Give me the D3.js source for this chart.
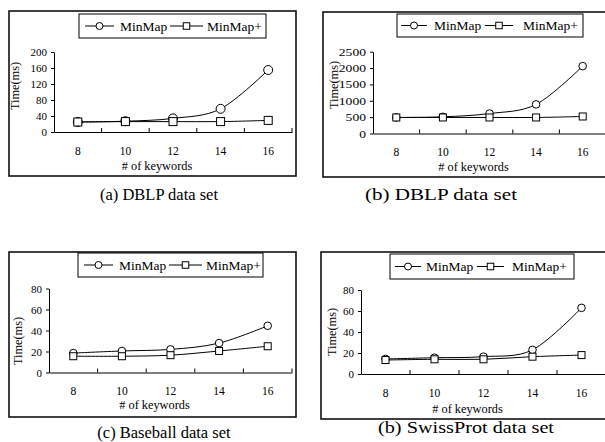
<!DOCTYPE html>
<html>
<head>
<meta charset="utf-8">
<script src="https://cdn.jsdelivr.net/npm/d3@7"></script>
<style>
  html, body { margin: 0; padding: 0; background: #fff; }
  svg { display: block; }
</style>
</head>
<body>
<svg id="chart" width="605" height="442"></svg>
<script>
// ---------------- DATA ----------------
const categories = ["8", "10", "12", "14", "16"];
const seriesNames = ["MinMap", "MinMap+"];

const dblpA_MinMap     = [25, 27, 34, 58, 155];
const dblpA_MinMapPlus = [25, 26, 26, 26, 29];

const dblpB_MinMap     = [490, 510, 610, 890, 2060];
const dblpB_MinMapPlus = [490, 490, 490, 490, 520];

const baseball_MinMap     = [18.5, 20.5, 22, 28, 44.5];
const baseball_MinMapPlus = [15.5, 15.5, 16.5, 20.5, 25];

const swiss_MinMap     = [14.3, 15.5, 16.5, 23, 63];
const swiss_MinMapPlus = [13.3, 14, 14, 16.5, 18];

const ticksA = [0, 40, 80, 120, 160, 200];
const ticksB = [0, 500, 1000, 1500, 2000, 2500];
const ticksC = [0, 20, 40, 60, 80];
const ticksD = [0, 20, 40, 60, 80];

const captions = ["(a) DBLP data set", "(b) DBLP data set", "(c) Baseball data set", "(b) SwissProt data set"];
const xTitle = "# of keywords";
const yTitle = "Time(ms)";

const FONT = '"Liberation Serif", Tinos, "Times New Roman", "DejaVu Serif", serif';

// ---------------- LAYOUT ----------------
const panels = [
  { series: [dblpA_MinMap, dblpA_MinMapPlus], ticks: ticksA, caption: captions[0],
    frame: {x: 9, y: 11, w: 287, h: 165},
    plot: {left: 54, right: 292, bottom: 132, top: 52},
    legend: {x: 79, y: 14, w: 187, h: 24, o: [6, 35, 41, 91, 124, 128]},
    ytitle: {x: 15, y: 86}, xtitleY: 166, cap: {x: 159, y: 200, size: 16.5, len: null},
    digitW: null, r: 4.5, sq: 8 },
  { series: [dblpB_MinMap, dblpB_MinMapPlus], ticks: ticksB, caption: captions[1],
    frame: {x: 323, y: 12, w: 286, h: 165},
    plot: {left: 373, right: 606, bottom: 133.5, top: 51.7},
    legend: {x: 397, y: 14, w: 186, h: 23, o: [4, 30, 37, 88, 116, 126]},
    ytitle: {x: 333.5, y: 85}, xtitleY: 167, cap: {x: 441, y: 200, size: 17, len: 152},
    digitW: 6.8, r: 3.8, sq: 7 },
  { series: [baseball_MinMap, baseball_MinMapPlus], ticks: ticksC, caption: captions[2],
    frame: {x: 9, y: 252, w: 287, h: 165},
    plot: {left: 49, right: 292, bottom: 372.5, top: 288.5},
    legend: {x: 78, y: 253, w: 185, h: 24, o: [6, 35, 41, 91, 124, 128]},
    ytitle: {x: 18, y: 341}, xtitleY: 405, cap: {x: 164, y: 438, size: 16.5, len: null},
    digitW: null, r: 3.8, sq: 7 },
  { series: [swiss_MinMap, swiss_MinMapPlus], ticks: ticksD, caption: captions[3],
    frame: {x: 321, y: 252, w: 288, h: 167},
    plot: {left: 361, right: 606, bottom: 374, top: 290},
    legend: {x: 390, y: 254, w: 184, h: 25, o: [5, 31, 36, 87, 114, 122]},
    ytitle: {x: 332, y: 332}, xtitleY: 409, cap: {x: 466, y: 433, size: 17, len: 176},
    digitW: null, r: 3.8, sq: 7 }
];

const svg = d3.select("#chart");

function drawMarker(g, kind, cx, cy, r, sq) {
  if (kind === 0) {
    g.append("circle").attr("cx", cx).attr("cy", cy).attr("r", r)
      .attr("fill", "#fff").attr("stroke", "#000").attr("stroke-width", 1);
  } else {
    g.append("rect").attr("x", cx - sq / 2).attr("y", cy - sq / 2)
      .attr("width", sq).attr("height", sq)
      .attr("fill", "#fff").attr("stroke", "#000").attr("stroke-width", 1);
  }
}

panels.forEach(p => {
  const g = svg.append("g");

  // frame
  g.append("rect").attr("x", p.frame.x).attr("y", p.frame.y)
    .attr("width", p.frame.w).attr("height", p.frame.h)
    .attr("fill", "#fff").attr("stroke", "#111").attr("stroke-width", 1.6);

  const x = d3.scaleBand().domain(categories).range([p.plot.left, p.plot.right]);
  const yMax = p.ticks[p.ticks.length - 1];
  const y = d3.scaleLinear().domain([0, yMax]).range([p.plot.bottom, p.plot.top]);

  // y axis
  const ya = g.append("g").attr("transform", `translate(${p.plot.left},0)`)
    .call(d3.axisLeft(y).tickValues(p.ticks).tickFormat(d3.format("d"))
      .tickSize(3).tickSizeOuter(0).tickPadding(4));
  ya.attr("font-family", null);
  ya.select(".domain").attr("stroke", "#000");
  ya.selectAll(".tick line").attr("stroke", "#000");
  ya.selectAll("text").style("font-size", "11px");
  if (p.digitW) {
    ya.selectAll("text").each(function (d) {
      const s = d3.format("d")(d);
      d3.select(this).attr("textLength", s.length * p.digitW).attr("lengthAdjust", "spacingAndGlyphs");
    });
  }

  // x axis (labels at band centers, ticks at band boundaries pointing up)
  const xa = g.append("g").attr("transform", `translate(0,${p.plot.bottom})`)
    .call(d3.axisBottom(x).tickSize(0).tickSizeOuter(0).tickPadding(14.5));
  xa.attr("font-family", null);
  xa.select(".domain").attr("stroke", "#000");
  xa.selectAll("text").style("font-size", "11.5px");
  categories.forEach(c => {
    const bx = x(c) + x.bandwidth();
    g.append("line").attr("x1", bx).attr("x2", bx)
      .attr("y1", p.plot.bottom).attr("y2", p.plot.bottom - 4)
      .attr("stroke", "#000").attr("stroke-width", 1);
  });

  // titles
  g.append("text").attr("x", (p.plot.left + p.plot.right) / 2 - 16).attr("y", p.xtitleY)
    .attr("text-anchor", "middle").attr("dominant-baseline", "central")
    .style("font-size", "12.3px").text(xTitle);
  g.append("text").attr("transform", `translate(${p.ytitle.x},${p.ytitle.y}) rotate(-90)`)
    .attr("text-anchor", "middle").attr("dominant-baseline", "central")
    .style("font-size", "12.3px").text(yTitle);

  // lines
  const line = d3.line()
    .x((d, i) => x(categories[i]) + x.bandwidth() / 2)
    .y(d => y(d))
    .curve(d3.curveCardinal.tension(0));
  p.series.forEach(s => {
    g.append("path").datum(s).attr("d", line)
      .attr("fill", "none").attr("stroke", "#000").attr("stroke-width", 1);
  });
  p.series.forEach((s, k) => {
    s.forEach((v, i) => drawMarker(g, k, x(categories[i]) + x.bandwidth() / 2, y(v), p.r, p.sq));
  });

  // legend
  const L = p.legend;
  g.append("rect").attr("x", L.x).attr("y", L.y).attr("width", L.w).attr("height", L.h)
    .attr("fill", "#fff").attr("stroke", "#000").attr("stroke-width", 1);
  const cy = L.y + L.h / 2;
  const items = [
    {x1: L.x + L.o[0], x2: L.x + L.o[1], tx: L.x + L.o[2]},
    {x1: L.x + L.o[3], x2: L.x + L.o[4], tx: L.x + L.o[5]}
  ];
  items.forEach((it, k) => {
    g.append("line").attr("x1", it.x1).attr("x2", it.x2).attr("y1", cy).attr("y2", cy)
      .attr("stroke", "#000").attr("stroke-width", 1);
    drawMarker(g, k, (it.x1 + it.x2) / 2, cy, 3.5, 6.5);
    g.append("text").attr("x", it.tx).attr("y", cy).attr("dominant-baseline", "central")
      .style("font-size", "13.5px").text(seriesNames[k]);
  });

  // caption
  const ct = g.append("text").attr("x", p.cap.x).attr("y", p.cap.y).attr("text-anchor", "middle")
    .style("font-size", p.cap.size + "px").text(p.caption);
  if (p.cap.len) ct.attr("textLength", p.cap.len).attr("lengthAdjust", "spacingAndGlyphs");
});

svg.selectAll("text").style("font-family", FONT).attr("fill", "#000");
</script>
</body>
</html>
